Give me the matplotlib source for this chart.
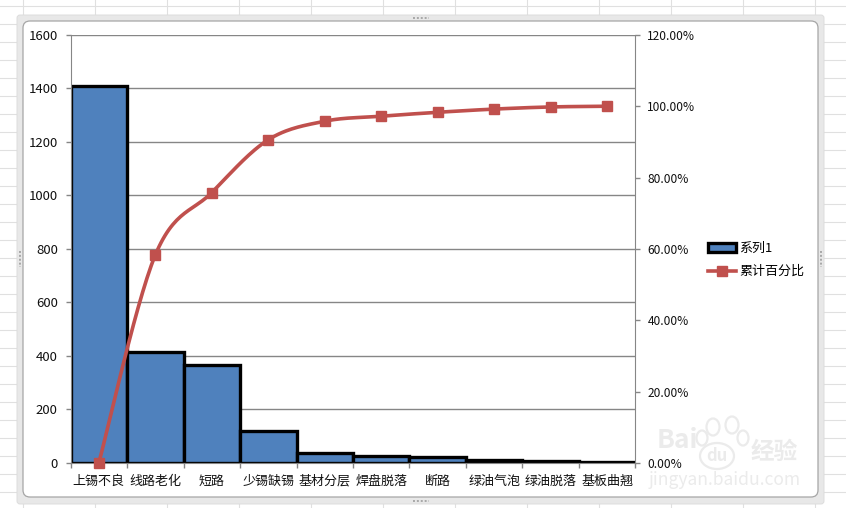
import numpy as np
import matplotlib
matplotlib.use("Agg")
import matplotlib.pyplot as plt
from matplotlib.patches import FancyBboxPatch, Ellipse
from matplotlib.lines import Line2D
from matplotlib.transforms import Affine2D

plt.rcParams['font.family'] = ['Noto Sans CJK SC', 'DejaVu Sans']

# --- data ---
categories = ['上锡不良', '线路老化', '短路', '少锡缺锡', '基材分层',
              '焊盘脱落', '断路', '绿油气泡', '绿油脱落', '基板曲翘']
counts = [1408, 415, 365, 120, 38, 27, 22, 12, 8, 4]
cum_pct = [0.0, 58.3, 75.8, 90.6, 95.8, 97.2, 98.3, 99.2, 99.8, 100.0]
left_ticks = [0, 200, 400, 600, 800, 1000, 1200, 1400, 1600]
right_ticks = [0, 20, 40, 60, 80, 100, 120]

W, H = 846, 508
GRAY = '#868686'
SHEET = '#e0e0e0'
MARK = '#ebebeb'


def smooth(xs, ys, n=30):
    # Catmull-Rom through the points, same idea as Excel's smoothed line
    xs = np.array(xs, dtype=float)
    ys = np.array(ys, dtype=float)
    out_x, out_y = [], []
    for i in range(len(xs) - 1):
        i0, i3 = max(i - 1, 0), min(i + 2, len(xs) - 1)
        t = np.linspace(0, 1, n)
        for src, out in ((xs, out_x), (ys, out_y)):
            p0, p1, p2, p3 = src[i0], src[i], src[i + 1], src[i3]
            out.extend(0.5 * (2 * p1 + (p2 - p0) * t
                              + (2 * p0 - 5 * p1 + 4 * p2 - p3) * t**2
                              + (3 * p1 - p0 - 3 * p2 + p3) * t**3))
    return out_x, out_y


fig = plt.figure(figsize=(W / 100, H / 100), dpi=100, facecolor='white')
px = Affine2D().scale(1, -1).translate(0, H)  # pixel coords, y down

# --- spreadsheet cells behind the chart ---
for x in range(23, W, 72):
    fig.add_artist(Line2D([x, x], [0, H], transform=px, color=SHEET, lw=0.8, zorder=-5))
for y in np.arange(5.5, H, 18):
    fig.add_artist(Line2D([0, W], [y, y], transform=px, color=SHEET, lw=0.8, zorder=-5))

# --- chart frame ---
fig.add_artist(FancyBboxPatch((17, 15), 807, 489, boxstyle='round,pad=0,rounding_size=3',
                              transform=px, fc='#e8e8e8', ec='#dcdcdc', lw=0.7, zorder=-4))
fig.add_artist(FancyBboxPatch((23, 21), 795, 476, boxstyle='round,pad=0,rounding_size=7',
                              transform=px, fc='white', ec='#a6a6a6', lw=0.9, zorder=-3))
# resize grips on the frame
for gx, gy in ((421, 18), (421, 501), (20, 259), (821, 259)):
    dx, dy = (8, 0) if gy != 259 else (0, 8)
    fig.add_artist(Line2D([gx - dx, gx + dx], [gy - dy, gy + dy],
                          transform=px, color='#a8a8a8', lw=1.4, ls=(0, (1, 1)), zorder=-2))

# --- axes ---
ax = fig.add_axes([70.6 / W, 1 - 462.9 / H, (635.4 - 70.6) / W, (462.9 - 34.9) / H])
ax.patch.set_alpha(0)
x = np.arange(len(categories))
bars = ax.bar(x, counts, width=1.0, color='#4f81bd', edgecolor='black', linewidth=2.4,
              label='系列1', zorder=3)
ax.set_xlim(-0.5, len(categories) - 0.5)
ax.set_ylim(0, 1600)
ax.set_yticks(left_ticks)
ax.set_xticks(np.arange(len(categories) + 1) - 0.5)
ax.set_xticklabels([])
ax.tick_params(axis='x', length=3.6, width=1, color=GRAY)
ax.tick_params(axis='y', length=3.6, width=1, color=GRAY, labelsize=9.5, pad=5.6, labelcolor='#111111')
ax.yaxis.grid(True, color=GRAY, lw=1, zorder=0)
ax.set_axisbelow(True)
for s in ('top', 'right'):
    ax.spines[s].set_visible(False)
for s in ('left', 'bottom'):
    ax.spines[s].set_color(GRAY)
    ax.spines[s].set_zorder(6)
for i, name in enumerate(categories):
    ax.annotate(name, (i, 0), xycoords=('data', 'axes fraction'), xytext=(0, -8.5),
                textcoords='offset points', ha='center', va='top', fontsize=9.4, color='#111111')

ax2 = ax.twinx()
ax2.set_ylim(0, 120)
ax2.set_yticks(right_ticks)
ax2.set_yticklabels([f'{v:.2f}%' for v in right_ticks])
ax2.tick_params(axis='y', length=3.6, width=1, color=GRAY, labelsize=8.6, pad=5, labelcolor='#111111')
for s in ('top', 'left', 'bottom'):
    ax2.spines[s].set_visible(False)
ax2.spines['right'].set_color(GRAY)

sx, sy = smooth(x, cum_pct)
ax2.plot(sx, sy, color='#c0504d', lw=2.6, clip_on=False, zorder=4)
ax2.plot(x, cum_pct, ls='none', marker='s', ms=7.5, color='#c0504d', mec='#c0504d',
         clip_on=False, zorder=5)

# --- legend ---
line_handle = Line2D([], [], color='#c0504d', lw=2.6, marker='s', ms=7.5, label='累计百分比')
leg = fig.legend(handles=[bars, line_handle], loc='center left',
                 bbox_to_anchor=(708 / W, 1 - 260 / H), frameon=False, fontsize=9.4,
                 handlelength=2.15, handletextpad=0.25, labelspacing=0.8,
                 borderpad=0, borderaxespad=0)

# --- watermark ---
for cx, cy, w, h in ((713, 427, 13, 17), (732, 425, 13, 17), (702, 438, 11, 15), (743, 438, 11, 15)):
    fig.add_artist(Ellipse((cx, cy), w, h, transform=px, fc='none', ec=MARK, lw=1.6, zorder=7))
fig.add_artist(Ellipse((717, 456), 34, 26, transform=px, fc='none', ec=MARK, lw=1.6, zorder=7))
fig.text(677 / W, 1 - 441 / H, 'Bai', ha='center', va='center', fontsize=19,
         color=MARK, zorder=7, fontweight='bold')
fig.text(717 / W, 1 - 456 / H, 'du', ha='center', va='center', fontsize=12,
         color=MARK, zorder=7, fontweight='bold')
fig.text(774 / W, 1 - 452 / H, '经验', ha='center', va='center', fontsize=17,
         color=MARK, zorder=7, fontweight='bold')
fig.text(725 / W, 1 - 480 / H, 'jingyan.baidu.com', ha='center', va='center', fontsize=12.6,
         color=MARK, zorder=7)

fig.savefig('out.png', dpi=100)
